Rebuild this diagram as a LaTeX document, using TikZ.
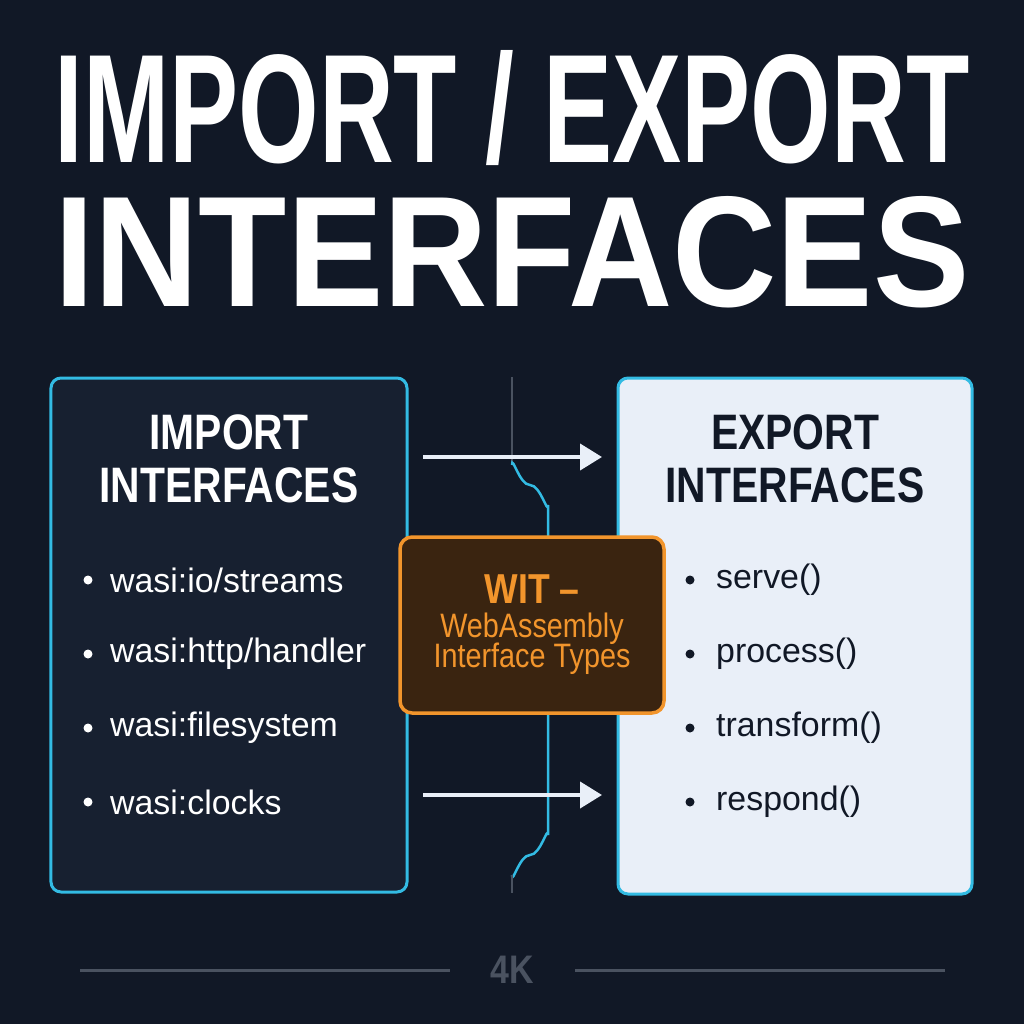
\documentclass[tikz,border=0pt]{standalone}
\usepackage{fontspec}
\setmainfont{Liberation Sans}
\usetikzlibrary{arrows.meta}
\definecolor{bgdark}{HTML}{111826}
\definecolor{panel}{HTML}{172030}
\definecolor{cyanedge}{HTML}{33BBE3}
\definecolor{paper}{HTML}{E9EFF8}
\definecolor{witfill}{HTML}{3A2410}
\definecolor{witedge}{HTML}{F2952C}
\definecolor{gridgray}{HTML}{4A5260}
\begin{document}
\begin{tikzpicture}[
       x=1bp, y=-1bp,
       panelbox/.style={
         draw=cyanedge,
         line width=3bp,
         rounded corners=10bp
       },
       bulletline/.style={
         anchor=west,
         font=\fontsize{34}{36}\selectfont,
         inner sep=0pt
       },
       headline/.style={
         inner sep=0pt,
         font=\bfseries\fontsize{50}{54}\selectfont
       },
       flowarrow/.style={
         draw=paper,
         line width=4bp,
         -{Triangle[length=22bp,width=26bp]}
       }
     ]
       \useasboundingbox[fill=bgdark] (0,0) rectangle (1024,1024);

       % title
       \node (t1) [inner sep=0pt] at (512,108) {\resizebox{915bp}{112bp}{\color{white}\bfseries IMPORT / EXPORT}};
       \node (t2) [inner sep=0pt] at (512,252) {\resizebox{915bp}{110bp}{\color{white}\bfseries INTERFACES}};

       % middle guide line
       \coordinate (g1) at (512,377);
       \coordinate (g2) at (512,893);
       \draw[gridgray, line width=2bp] (g1) -- (512,465);
       \draw[cyanedge, line width=2.5bp] (512,465) to[out=90,in=180] (530,485)
          to[out=0,in=-90] (548,505) -- (548,835) to[out=90,in=0] (530,855)
          to[out=180,in=-90] (512,875);
       \draw[gridgray, line width=2bp] (512,875) -- (g2);

       % panels
       \node (imp) [panelbox, fill=panel, minimum width=356bp, minimum height=514bp] at (229,635) {};
       \node (exp) [panelbox, fill=paper, minimum width=354bp, minimum height=516bp] at (795,636) {};

       \node (imph1) [headline, text=white] at (229,432) {\scalebox{0.82}[1]{IMPORT}};
       \node (imph2) [headline, text=white] at (229,485) {\scalebox{0.82}[1]{INTERFACES}};
       \node (exph1) [headline, text=bgdark] at (795,432) {\scalebox{0.82}[1]{EXPORT}};
       \node (exph2) [headline, text=bgdark] at (795,485) {\scalebox{0.82}[1]{INTERFACES}};

       \foreach \txt [count=\i] in {wasi:io/streams, wasi:http/handler, wasi:filesystem, wasi:clocks} {
         \fill[white] (88,506+74*\i) circle (4.5bp);
         \node (imp\i) [bulletline, text=white] at (110,506+74*\i) {\txt};
       }
       \foreach \txt [count=\i] in {serve(), process(), transform(), respond()} {
         \fill[bgdark] (690,506+74*\i) circle (4.5bp);
         \node (exp\i) [bulletline, text=bgdark] at (716,506+74*\i) {\txt};
       }

       % arrows
       \coordinate (a1) at (423,457);
       \coordinate (b1) at (602,457);
       \coordinate (a2) at (423,795);
       \coordinate (b2) at (602,795);
       \draw[flowarrow] (a1) -- (b1);
       \draw[flowarrow] (a2) -- (b2);

       % WIT box
       \node (wit) [draw=witedge, fill=witfill, line width=3.5bp, rounded corners=12bp,
         minimum width=264bp, minimum height=176bp, align=center, text=witedge] at (532,625)
         {\scalebox{0.85}[1]{\bfseries\fontsize{42}{42}\selectfont WIT --}\\[8bp]
          \scalebox{0.85}[1]{\fontsize{34}{36}\selectfont WebAssembly}\\[-2bp]
          \scalebox{0.85}[1]{\fontsize{34}{36}\selectfont Interface Types}};

       % footer
       \node (fk) [text=gridgray, font=\bfseries\fontsize{40}{40}\selectfont] at (512,970) {\scalebox{0.85}[1]{4K}};
       \draw[gridgray, line width=3bp] (80,970) -- (450,970);
       \draw[gridgray, line width=3bp] (575,970) -- (945,970);
\end{tikzpicture}
\end{document}
